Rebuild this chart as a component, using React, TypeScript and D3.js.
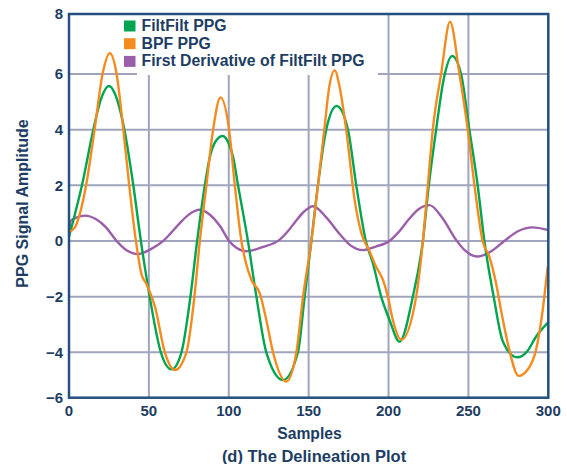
import React from "react";
import * as d3 from "d3";

// Sample index / amplitude pairs for each trace
const filtFiltSamples = [0, 8.5, 15.2, 20, 25, 30, 35, 40, 45, 50.5, 57.5, 64.2, 70.4, 76, 80.2, 85, 88.1, 92, 96.2, 100, 102.7, 105.8, 112, 117.3, 123.5, 134, 143.3, 147.5, 151.7, 155.8, 161, 167.5, 174.6, 179.8, 185.8, 190.2, 195.4, 200.6, 206.9, 215.2, 221.5, 225.2, 229.8, 234.5, 239.8, 245.4, 250.6, 255.8, 260, 265.8, 271.5, 280.4, 287, 292.3, 299.6];
const filtFiltValues = [0.15, 2.1, 4.0, 5.1, 5.57, 5.1, 3.9, 2.1, 0, -2, -4, -4.75, -4, -2, 0, 2, 3.0, 3.6, 3.77, 3.5, 3.03, 2, 0, -2, -4, -5.22, -4, -2, 0, 2, 4, 4.85, 4, 2, 0, -0.8, -2, -2.84, -3.62, -2, 0, 2, 4, 5.8, 6.6, 6, 4, 2, 0, -2, -3.6, -4.22, -3.95, -3.44, -2.94];

const bpfSamples = [0, 3.8, 6.9, 10.7, 16, 21, 25.6, 29.8, 34, 37.7, 41.9, 45.4, 48.5, 53.8, 60, 66.3, 73.5, 78.5, 81.9, 86, 90.2, 94.8, 100.2, 103.8, 107.9, 110.8, 114.2, 119.4, 123.5, 127.7, 136, 142.3, 146.5, 151.7, 155.8, 159.8, 162.8, 166.3, 169.5, 173.5, 178.8, 183, 188, 192, 196.5, 199.6, 202.7, 208, 217.3, 221.5, 224.6, 227.7, 232.9, 238.5, 244.4, 249.6, 253.8, 258.9, 263.1, 267.3, 270.4, 274.6, 281.5, 287, 292.3, 296.5, 299.6];
const bpfValues = [0.33, 0.5, 1.0, 2, 4, 6, 6.69, 6, 4, 2, 0, -1.2, -1.55, -2.36, -4, -4.78, -4, -2, 0, 2, 4, 5.16, 4, 2, 0, -0.8, -1.4, -1.88, -2.84, -4, -5.29, -4, -2, 0, 2, 4, 5.5, 6.12, 5.5, 4, 1.47, 0.28, -0.35, -0.9, -1.4, -2, -2.84, -3.55, -2, 0, 2, 4, 6, 7.74, 6, 4, 2, 0, -0.56, -1.52, -2.48, -3.67, -5.04, -4.77, -3.92, -2.48, -0.92];

const derivSamples = [0, 1, 5, 10, 17, 23, 29.8, 36, 43.3, 51, 59, 64, 69.4, 74.6, 81.9, 88, 94.4, 100.2, 105, 111, 121, 131.9, 137, 142, 147, 152.7, 161, 169.4, 176, 183.9, 192, 200.6, 206, 213, 219, 225.6, 234, 242.3, 248, 255.8, 264, 272.5, 281, 290.2, 299.6];
const derivValues = [0.33, 0.72, 0.85, 0.91, 0.78, 0.5, 0, -0.33, -0.47, -0.3, 0, 0.3, 0.64, 0.93, 1.12, 0.95, 0.55, 0, -0.25, -0.37, -0.22, 0.05, 0.35, 0.72, 1.05, 1.25, 0.85, 0.25, -0.15, -0.33, -0.2, 0, 0.3, 0.8, 1.15, 1.29, 0.8, 0.04, -0.35, -0.56, -0.38, 0, 0.35, 0.49, 0.4];

const seriesNames = ["FiltFilt PPG", "BPF PPG", "First Derivative of FiltFilt PPG"];
const seriesColors = ["#00a551", "#f58b1f", "#9b5ea8"];

const xTicks = [0, 50, 100, 150, 200, 250, 300];
const yTicks = [-6, -4, -2, 0, 2, 4, 6, 8];

const NAVY = "#1d3d63";
const BORDER = "#23507f";
const GRID = "#a0a5bd";
const FONT = "'Liberation Sans', Arial, sans-serif";

export default function App() {
  const W = 567;
  const H = 464;
  const left = 69;
  const right = 548.3;
  const top = 14;
  const bottom = 397.7;

  const x = d3.scaleLinear().domain([0, 300]).range([left, right]);
  // The printed axis is stretched unevenly at its ends
  const y = d3.scaleLinear().domain([-6, -4, 6, 8]).range([bottom, 352.3, 74, top]);

  const line = d3
    .line<[number, number]>()
    .x((d) => x(d[0]))
    .y((d) => y(d[1]))
    .curve(d3.curveMonotoneX);

  const zip = (xs: number[], ys: number[]) => xs.map((s, i) => [s, ys[i]] as [number, number]);
  const series = [
    zip(filtFiltSamples, filtFiltValues),
    zip(bpfSamples, bpfValues),
    zip(derivSamples, derivValues),
  ];
  const drawOrder = [2, 0, 1];

  const fmt = (v: number) => (v < 0 ? "\u2212" + Math.abs(v) : String(v));

  return (
    <svg width={W} height={H} style={{ display: "block", position: "absolute", left: 0, top: 0 }}>
      <rect x={0} y={0} width={W} height={H} fill="#fff" />
      {/* grid */}
      {yTicks.filter((v) => v > -6 && v < 8).map((v) => (
        <line key={"gy" + v} x1={left} x2={right} y1={y(v)} y2={y(v)} stroke={GRID} strokeWidth={2} />
      ))}
      {xTicks.filter((v) => v > 0 && v < 300).map((v) => (
        <line key={"gx" + v} x1={x(v)} x2={x(v)} y1={top} y2={bottom} stroke={GRID} strokeWidth={2} />
      ))}
      {/* legend backdrop */}
      <rect x={137} y={top} width={241} height={61} fill="#fff" />
      {/* traces */}
      {drawOrder.map((i) => (
        <path key={"s" + i} d={line(series[i]) || ""} fill="none" stroke={seriesColors[i]} strokeWidth={2.4} strokeLinejoin="round" />
      ))}
      {/* frame */}
      <rect x={left} y={top} width={right - left} height={bottom - top} fill="none" stroke={BORDER} strokeWidth={2.5} />
      {/* legend */}
      {seriesNames.map((name, i) => (
        <g key={"lg" + i}>
          <rect x={124} y={20.5 + i * 17.7} width={11.5} height={11} fill={seriesColors[i]} />
          <text x={141.5} y={30.8 + i * 17.7} fill={NAVY} fontFamily={FONT} fontWeight="bold" fontSize={15.8}>
            {name}
          </text>
        </g>
      ))}
      {/* y tick labels */}
      {yTicks.map((v) => (
        <text key={"yl" + v} x={63} y={y(v)} dy="0.35em" textAnchor="end" fill={NAVY} fontFamily={FONT} fontWeight="bold" fontSize={15}>
          {fmt(v)}
        </text>
      ))}
      {/* x tick labels */}
      {xTicks.map((v) => (
        <text key={"xl" + v} x={x(v)} y={416} textAnchor="middle" fill={NAVY} fontFamily={FONT} fontWeight="bold" fontSize={15}>
          {v}
        </text>
      ))}
      <text x={309.5} y={438.5} textAnchor="middle" fill={NAVY} fontFamily={FONT} fontWeight="bold" fontSize={15.7}>
        Samples
      </text>
      <text x={314} y={461.5} textAnchor="middle" fill={NAVY} fontFamily={FONT} fontWeight="bold" fontSize={16.5}>
        (d) The Delineation Plot
      </text>
      <text
        transform="translate(27.7, 203.5) rotate(-90)"
        textAnchor="middle"
        fill={NAVY}
        fontFamily={FONT}
        fontWeight="bold"
        fontSize={16}
      >
        PPG Signal Amplitude
      </text>
    </svg>
  );
}
